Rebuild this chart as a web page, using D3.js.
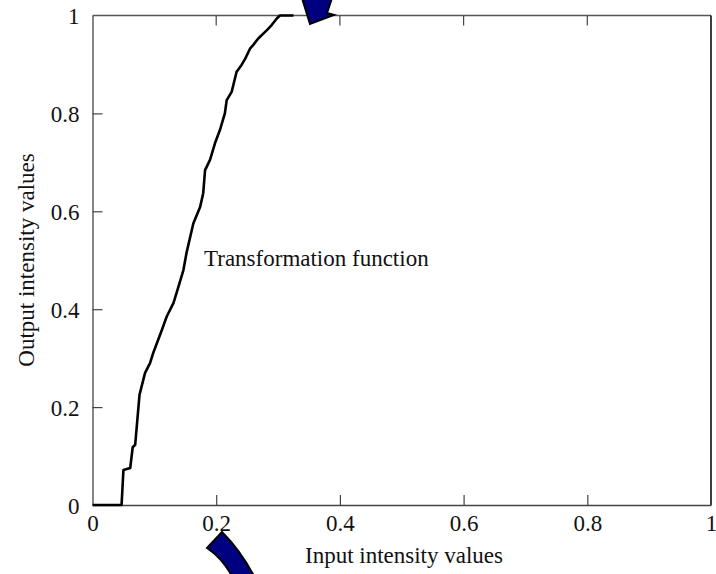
<!DOCTYPE html>
<html><head><meta charset="utf-8">
<script src="https://cdn.jsdelivr.net/npm/d3@7"></script>
<style>body{margin:0;background:#fff}svg{display:block}text{font-family:"Liberation Serif","DejaVu Serif",serif;fill:#111}</style>
</head><body>
<svg id="c" width="716" height="574"></svg>
<script>
const inputX = [0,0.047,0.050,0.061,0.065,0.069,0.076,0.082,0.085,0.093,0.098,0.112,0.120,0.131,0.139,0.147,0.152,0.163,0.174,0.179,0.182,0.190,0.198,0.206,0.214,0.217,0.225,0.233,0.241,0.247,0.255,0.260,0.268,0.282,0.290,0.298,0.303,0.325];
const outputY = [0,0,0.0715,0.0756,0.118,0.123,0.225,0.255,0.270,0.290,0.310,0.357,0.385,0.413,0.446,0.480,0.515,0.575,0.609,0.637,0.684,0.705,0.739,0.766,0.800,0.827,0.844,0.885,0.899,0.912,0.933,0.940,0.953,0.970,0.981,0.994,1.0,1.0];
const xTicks = [0,0.2,0.4,0.6,0.8,1];
const yTicks = [0,0.2,0.4,0.6,0.8,1];
const xTickLabels = ["0","0.2","0.4","0.6","0.8","1"];
const yTickLabels = ["0","0.2","0.4","0.6","0.8","1"];
const xLabel = "Input intensity values";
const yLabel = "Output intensity values";
const annotation = "Transformation function";

const svg = d3.select("#c");
const L=92.5, R=711, T=15.5, B=505;
const FS = "23px";
const x = d3.scaleLinear().domain([0,1]).range([L,R]);
const y = d3.scaleLinear().domain([0,1]).range([B,T]);

// box
svg.append("line").attr("x1",L).attr("x2",R).attr("y1",T).attr("y2",T).attr("stroke","#555").attr("stroke-width",1.3);
svg.append("line").attr("x1",R).attr("x2",R).attr("y1",T).attr("y2",B).attr("stroke","#000").attr("stroke-width",1.5);

const xAxis = svg.append("g").attr("transform",`translate(0,${B})`)
  .call(d3.axisBottom(x).tickValues(xTicks).tickSizeInner(-10).tickSizeOuter(0).tickPadding(9).tickFormat((d,i)=>xTickLabels[i]));
const yAxis = svg.append("g").attr("transform",`translate(${L},0)`)
  .call(d3.axisLeft(y).tickValues(yTicks).tickSizeInner(-10).tickSizeOuter(0).tickPadding(13).tickFormat((d,i)=>yTickLabels[i]));
[xAxis,yAxis].forEach(a=>{
  a.select(".domain").attr("stroke","#444").attr("stroke-width",1.3);
  a.selectAll(".tick line").attr("stroke","#444").attr("stroke-width",1.2);
  a.selectAll(".tick text").style("font-family",'"Liberation Serif",serif').style("font-size",FS).attr("fill","#111");
});
xAxis.selectAll(".tick line").filter(d=>d===0||d===1).remove();
yAxis.selectAll(".tick line").filter(d=>d===0||d===1).remove();
yAxis.selectAll(".tick text").attr("dy","0.35em");
xAxis.selectAll(".tick text").attr("dy","0.75em");
// top ticks
svg.append("g").selectAll("line").data(xTicks.filter(d=>d>0&&d<1)).join("line")
  .attr("x1",d=>x(d)).attr("x2",d=>x(d)).attr("y1",T).attr("y2",T+10).attr("stroke","#444").attr("stroke-width",1.2);

// curve
const pts = inputX.map((v,i)=>[v,outputY[i]]);
svg.append("path").datum(pts)
  .attr("d",d3.line().x(d=>x(d[0])).y(d=>y(d[1])))
  .attr("fill","none").attr("stroke","#000").attr("stroke-width",2.6).attr("stroke-linejoin","round");

svg.append("text").attr("x",204).attr("y",266).style("font-size",FS).text(annotation);
svg.append("text").attr("x",404).attr("y",563).attr("text-anchor","middle").style("font-size",FS).text(xLabel);
svg.append("text").attr("transform","translate(34,260) rotate(-90)").attr("text-anchor","middle").style("font-size",FS).text(yLabel);

// decorative arrows
svg.append("path").attr("d","M302,-2 L310,24 L334,15 L327,13 L332,-2 Z")
  .attr("fill","#000080").attr("stroke","#000").attr("stroke-width",2);
svg.append("path").attr("d","M207,548 L222,532 Q240,550 254,576 L232,576 Q222,558 207,548 Z")
  .attr("fill","#000080").attr("stroke","#000").attr("stroke-width",2);
</script>
</body></html>
